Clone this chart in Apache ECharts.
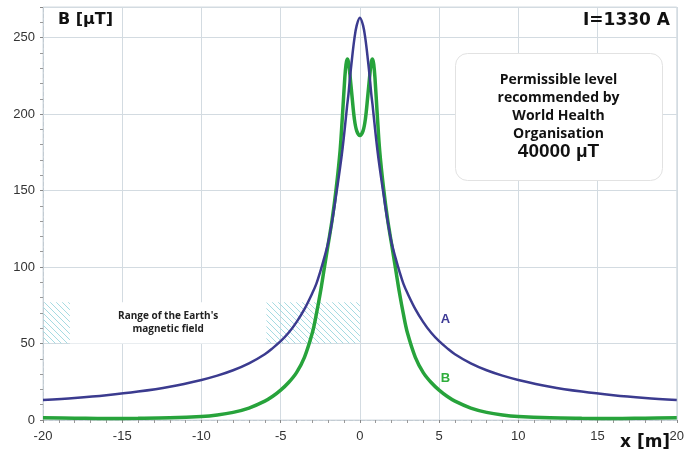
<!DOCTYPE html>
<html>
<head>
<meta charset="utf-8">
<script src="https://cdn.jsdelivr.net/npm/echarts@6/dist/echarts.min.js"></script>
<style>
    html, body { margin: 0; padding: 0; background: #fff; }
    #main { width: 687px; height: 461px; }
</style>
</head>
<body>
<div id="main"></div>
<script>
// distance from the line axis, m
var xValues = [-20, -18, -16, -14, -12, -10, -9, -8, -7, -6, -5.5, -5, -4.5, -4, -3.5, -3, -2.75, -2.5, -2.25, -2, -1.75, -1.5, -1.25, -1.1, -0.95, -0.88, -0.8, -0.72, -0.65, -0.5, -0.35, -0.2, 0,
    0.2, 0.35, 0.5, 0.65, 0.72, 0.8, 0.88, 0.95, 1.1, 1.25, 1.5, 1.75, 2, 2.25, 2.5, 2.75, 3, 3.5, 4, 4.5, 5, 5.5, 6, 7, 8, 9, 10, 12, 14, 16, 18, 20];
// B in uT, curve A
var curveA = [13, 14.4, 16.2, 18.6, 21.8, 26.2, 29, 32.5, 37, 43, 47, 51.5, 57, 64, 72.5, 83, 89, 97, 106, 116, 130, 147, 165, 177, 191, 198, 206, 213, 221, 236, 249, 258, 263,
    258, 249, 236, 221, 213, 206, 198, 191, 177, 165, 147, 130, 116, 106, 97, 89, 83, 72.5, 64, 57, 51.5, 47, 43, 37, 32.5, 29, 26.2, 21.8, 18.6, 16.2, 14.4, 13];
// B in uT, curve B
var curveB = [1.4, 1.2, 1, 1.1, 1.4, 2.3, 3.3, 5, 7.8, 12.3, 15.5, 19.5, 24.5, 31, 41, 57, 69, 83, 99, 115, 131, 151, 176, 199, 224, 232, 236, 234, 228, 212, 197, 189, 186,
    189, 197, 212, 228, 234, 236, 232, 224, 199, 176, 151, 131, 115, 99, 83, 69, 57, 41, 31, 24.5, 19.5, 15.5, 12.3, 7.8, 5, 3.3, 2.3, 1.4, 1.1, 1, 1.2, 1.4];
// Earth's field band
var earthBand = [50, 77];
var earthSplit = [-20, -18.3, -5.9, 0];

function toPairs(ys) {
    var out = [];
    for (var i = 0; i < xValues.length; i++) {
        out.push([xValues[i], ys[i]]);
    }
    return out;
}

// hatch pattern
var hatch = document.createElement('canvas');
hatch.width = 6;
hatch.height = 6;
var hctx = hatch.getContext('2d');
hctx.strokeStyle = '#a6dbe2';
hctx.lineWidth = 1;
hctx.beginPath();
hctx.moveTo(0, 0); hctx.lineTo(6, 6);
hctx.moveTo(-3, 3); hctx.lineTo(3, 9);
hctx.moveTo(3, -3); hctx.lineTo(9, 3);
hctx.stroke();

var gridColor = '#d3dbe1';
var chart = echarts.init(document.getElementById('main'));
var option = {
    animation: false,
    backgroundColor: '#fff',
    grid: {
        left: 43,
        right: 7,
        top: 7,
        bottom: 41,
        show: true,
        borderColor: gridColor,
        borderWidth: 1
    },
    xAxis: {
        type: 'value',
        min: -20,
        max: 20,
        interval: 5,
        axisLine: {onZero: false, lineStyle: {color: '#c3ccd3', type: 'dashed'}},
        axisTick: {show: true, length: 3, lineStyle: {color: '#888'}},
        minorTick: {show: true, splitNumber: 5, length: 3, lineStyle: {color: '#999'}},
        splitLine: {show: true, lineStyle: {color: gridColor}},
        axisLabel: {
            margin: 10,
            color: '#333',
            fontSize: 13,
            fontFamily: 'Liberation Sans'
        }
    },
    yAxis: {
        type: 'value',
        min: 0,
        max: 270,
        interval: 50,
        axisLine: {show: true, onZero: false, lineStyle: {color: '#c3ccd3', type: 'dashed'}},
        axisTick: {show: true, length: 3, lineStyle: {color: '#888'}},
        minorTick: {show: true, splitNumber: 5, length: 3, lineStyle: {color: '#999'}},
        splitLine: {show: true, lineStyle: {color: gridColor}},
        axisLabel: {
            margin: 8,
            showMaxLabel: false,
            color: '#333',
            fontSize: 13,
            fontFamily: 'Liberation Sans'
        }
    },
    series: [
        {
            name: 'B',
            type: 'line',
            data: toPairs(curveB),
            smooth: 0.35,
            symbol: 'none',
            lineStyle: {color: '#27a33b', width: 3.5},
            markArea: {
                silent: true,
                data: [
                    [
                        {coord: [earthSplit[0], earthBand[0]], itemStyle: {color: {image: hatch, repeat: 'repeat'}}},
                        {coord: [earthSplit[1], earthBand[1]]}
                    ],
                    [
                        {
                            coord: [earthSplit[1], earthBand[0]],
                            itemStyle: {color: '#fff'},
                            label: {
                                show: true,
                                position: 'inside',
                                formatter: "Range of the Earth's\nmagnetic field",
                                fontFamily: 'Open Sans',
                                fontWeight: 'bold',
                                fontSize: 10,
                                lineHeight: 13,
                                color: '#222'
                            }
                        },
                        {coord: [earthSplit[2], earthBand[1]]}
                    ],
                    [
                        {coord: [earthSplit[2], earthBand[0]], itemStyle: {color: {image: hatch, repeat: 'repeat'}}},
                        {coord: [earthSplit[3], earthBand[1]]}
                    ]
                ]
            },
            markPoint: {
                silent: true,
                symbolSize: 0,
                data: [{coord: [5.4, 27], value: 'B'}],
                label: {
                    show: true,
                    position: 'inside',
                    formatter: 'B',
                    color: '#2fae3c',
                    fontWeight: 'bold',
                    fontSize: 13,
                    fontFamily: 'Liberation Sans'
                }
            }
        },
        {
            name: 'A',
            type: 'line',
            data: toPairs(curveA),
            smooth: 0.35,
            symbol: 'none',
            lineStyle: {color: '#3b3b8f', width: 2.5},
            markPoint: {
                silent: true,
                symbolSize: 0,
                data: [{coord: [5.4, 66], value: 'A'}],
                label: {
                    show: true,
                    position: 'inside',
                    formatter: 'A',
                    color: '#3d3a95',
                    fontWeight: 'bold',
                    fontSize: 13,
                    fontFamily: 'Liberation Sans'
                }
            }
        }
    ],
    graphic: [
        {
            type: 'text', left: 58, top: 12, z: 100,
            style: {text: 'B [μT]', font: 'bold 16px "DejaVu Sans"', fill: '#111'}
        },
        {
            type: 'text', right: 17, top: 12, z: 100,
            style: {text: 'I=1330 A', font: 'bold 17px "DejaVu Sans"', fill: '#111'}
        },
        {
            type: 'text', left: 620, top: 434, z: 100,
            style: {text: 'x [m]', font: 'bold 17px "DejaVu Sans"', fill: '#111'}
        },
        {
            type: 'group', left: 455, top: 53, z: 100,
            children: [
                {
                    type: 'rect', z: 100,
                    shape: {x: 0, y: 0, width: 207, height: 127, r: 12},
                    style: {fill: '#fff', stroke: '#e2e2e2', lineWidth: 1}
                },
                {
                    type: 'text', x: 103, y: 18, z: 101,
                    style: {
                        text: 'Permissible level\nrecommended by\nWorld Health\nOrganisation',
                        font: 'bold 14px "Open Sans"',
                        lineHeight: 18,
                        align: 'center',
                        fill: '#111'
                    }
                },
                {
                    type: 'text', x: 103, y: 89, z: 101,
                    style: {
                        text: '40000 μT',
                        font: 'bold 19px "Liberation Sans"',
                        align: 'center',
                        fill: '#111'
                    }
                }
            ]
        }
    ]
};
chart.setOption(option);
window.onresize = chart.resize;
</script>
</body>
</html>
